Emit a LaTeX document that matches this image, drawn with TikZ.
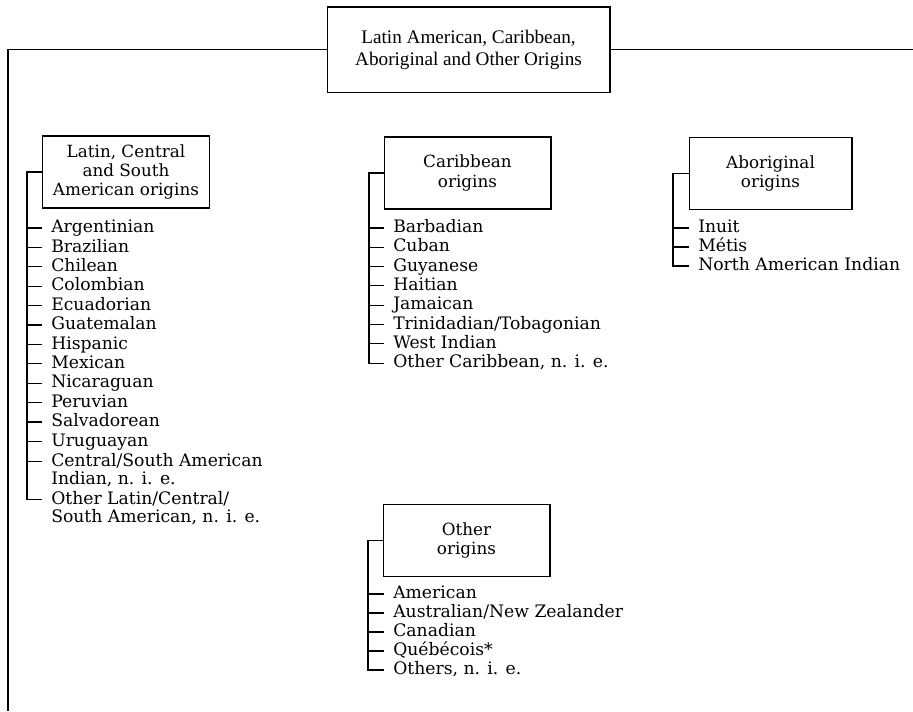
\documentclass[tikz,border=0pt]{standalone}
\usepackage{fontspec}
\setmainfont{DejaVu Serif}
\newfontfamily\titlefont{Liberation Serif}
\usetikzlibrary{positioning}

\tikzset{
  headbox/.style={draw, line width=1pt, align=center, minimum width=212pt, minimum height=64pt, inner sep=2pt, font=\titlefont\fontsize{14.4}{16.5}\selectfont},
  originbox/.style={draw, line width=1pt, align=center, minimum width=125pt, minimum height=54pt, inner sep=2pt, font=\fontsize{12.6}{14.6}\selectfont},
  entry/.style={anchor=west, inner xsep=6.75pt, inner ysep=0pt, text height=9.5pt, text depth=2.5pt, font=\fontsize{12.9}{14}\selectfont},
  branch/.style={line width=0.8pt},
}

\begin{document}
\begin{tikzpicture}[x=0.75pt, y=-0.75pt]
    \useasboundingbox (0,0) rectangle (913,711);

    % Head
    \node[headbox] (head) at (468.5,49.5) {Latin American, Caribbean,\\Aboriginal and Other Origins};
    \coordinate (leftend) at (8,711);
    \coordinate (rightend) at (913,49.5);
    \draw[branch] (head.west) -| (leftend);
    \draw[branch] (head.east) -- (rightend);

    % Latin, Central and South American
    \node[originbox] (latin) at (126,172) {Latin, Central\\and South\\American origins};
    \node[entry] (lat1) at (42,228) {Argentinian};
    \node[entry] (lat2) at (42,247.4) {Brazilian};
    \node[entry] (lat3) at (42,266.8) {Chilean};
    \node[entry] (lat4) at (42,286.2) {Colombian};
    \node[entry] (lat5) at (42,305.6) {Ecuadorian};
    \node[entry] (lat6) at (42,325) {Guatemalan};
    \node[entry] (lat7) at (42,344.4) {Hispanic};
    \node[entry] (lat8) at (42,363.8) {Mexican};
    \node[entry] (lat9) at (42,383.2) {Nicaraguan};
    \node[entry] (lat10) at (42,402.6) {Peruvian};
    \node[entry] (lat11) at (42,422) {Salvadorean};
    \node[entry] (lat12) at (42,441.4) {Uruguayan};
    \node[entry] (lat13) at (42,461.5) {Central/South American};
    \node[entry] (lat13b) at (42,480) {Indian, n. i. e.};
    \node[entry] (lat14) at (42,499.5) {Other Latin/Central/};
    \node[entry] (lat14b) at (42,518) {South American, n. i. e.};
    \coordinate (latcorner) at (27,499.5);
    \draw[branch] (latin.west) -| (latcorner) -- (lat14.west);
    \foreach \n in {lat1,lat2,lat3,lat4,lat5,lat6,lat7,lat8,lat9,lat10,lat11,lat12,lat13}
      \draw[branch] (\n.west -| latcorner) -- (\n.west);

    % Caribbean
    \node[originbox] (carib) at (467.5,173) {Caribbean\\origins};
    \node[entry] (car1) at (384,228) {Barbadian};
    \node[entry] (car2) at (384,247.3) {Cuban};
    \node[entry] (car3) at (384,266.6) {Guyanese};
    \node[entry] (car4) at (384,285.9) {Haitian};
    \node[entry] (car5) at (384,305.2) {Jamaican};
    \node[entry] (car6) at (384,324.5) {Trinidadian/Tobagonian};
    \node[entry] (car7) at (384,343.8) {West Indian};
    \node[entry] (car8) at (384,363.1) {Other Caribbean, n. i. e.};
    \coordinate (carcorner) at (369,363.1);
    \draw[branch] (carib.west) -| (carcorner) -- (car8.west);
    \foreach \n in {car1,car2,car3,car4,car5,car6,car7}
      \draw[branch] (\n.west -| carcorner) -- (\n.west);

    % Aboriginal
    \node[originbox, minimum width=122pt] (abor) at (770.5,173.5) {Aboriginal\\origins};
    \node[entry] (abo1) at (689,228) {Inuit};
    \node[entry] (abo2) at (689,247) {Métis};
    \node[entry] (abo3) at (689,266) {North American Indian};
    \coordinate (abocorner) at (673,266);
    \draw[branch] (abor.west) -| (abocorner) -- (abo3.west);
    \foreach \n in {abo1,abo2}
      \draw[branch] (\n.west -| abocorner) -- (\n.west);

    % Other
    \node[originbox] (other) at (466.5,540.5) {Other\\origins};
    \node[entry] (oth1) at (384,594) {American};
    \node[entry] (oth2) at (384,613) {Australian/New Zealander};
    \node[entry] (oth3) at (384,632) {Canadian};
    \node[entry] (oth4) at (384,651) {Québécois*};
    \node[entry] (oth5) at (384,670) {Others, n. i. e.};
    \coordinate (othcorner) at (368,670);
    \draw[branch] (other.west) -| (othcorner) -- (oth5.west);
    \foreach \n in {oth1,oth2,oth3,oth4}
      \draw[branch] (\n.west -| othcorner) -- (\n.west);
\end{tikzpicture}
\end{document}
